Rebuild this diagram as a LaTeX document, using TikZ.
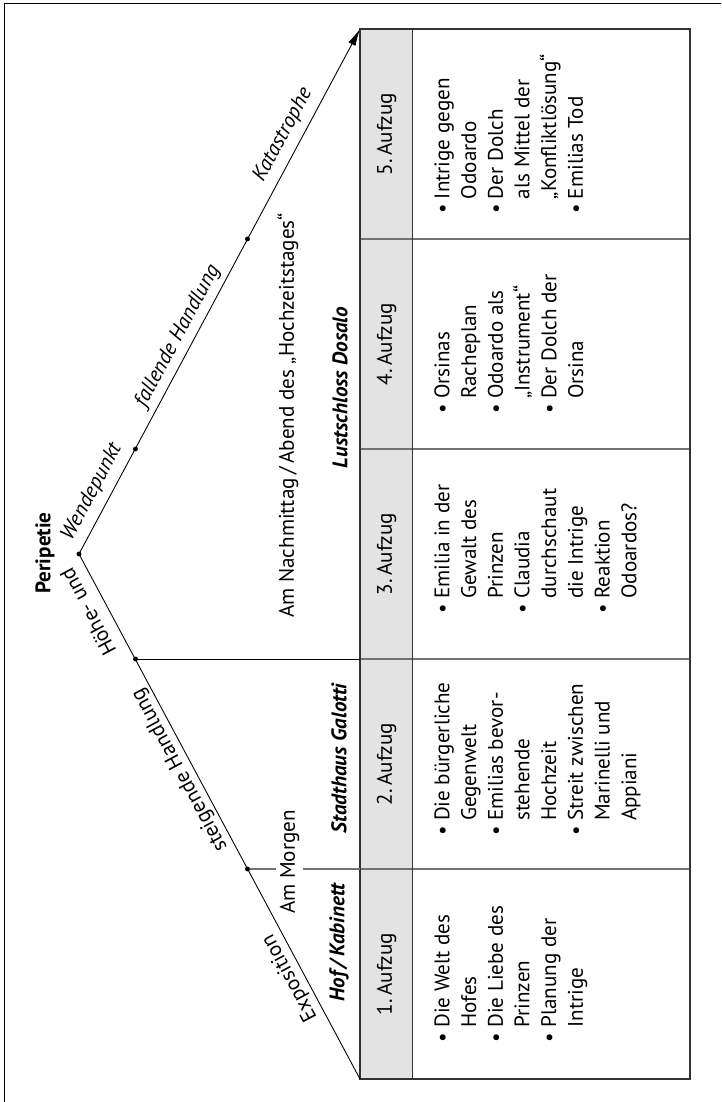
\documentclass[tikz,border=0pt]{standalone}
\usepackage{fontspec}
\setmainfont{PT Sans}
\usetikzlibrary{arrows.meta}

\newcommand{\bul}{\makebox[0.7em][l]{\textbullet}}
\newcommand{\cnt}{\hspace*{0.7em}}

\tikzset{
	akt/.style={font=\fontsize{12}{15.2}\selectfont},
	liste/.style={akt, anchor=north, align=left, inner sep=0pt},
	ort/.style={font=\fontsize{12}{15.2}\selectfont\bfseries\itshape},
	kurve/.style={font=\fontsize{12}{15.2}\selectfont, inner sep=1pt},
	punkt/.style={fill=black},
	trenner/.style={gray!90!black, line width=0.7pt}
}

\begin{document}
\begin{tikzpicture}[rotate=90, transform shape, line width=0.5pt]

	%% page and frame
	\useasboundingbox (0,0) rectangle (22.04,14.42);
	\clip (0,0) rectangle (22.04,14.42);
	\draw[line width=0.8pt] (-1,-1) rectangle (21.97,14.33);

	%% table
	\fill[gray!22] (0.46,6.17) rectangle (21.46,7.22);
	\foreach \i in {1,...,4}
		\draw[trenner] ({0.46+4.2*\i},0.62) -- ({0.46+4.2*\i},7.22);
	\draw[black!80] (0.46,6.17) -- (21.46,6.17);
	\draw[black!80, line width=0.6pt] (0.46,0.62) rectangle (21.46,7.22);

	%% the curve
	\coordinate (p0) at (0.46,7.22);
	\coordinate (d1) at (4.66,9.47);
	\coordinate (d2) at (8.86,11.71);
	\coordinate (peak) at (10.96,12.84);
	\coordinate (d3) at (13.06,11.71);
	\coordinate (d4) at (17.26,9.47);
	\coordinate (tip) at (21.46,7.22);
	\coordinate (t1) at (4.66,7.22);
	\coordinate (t2) at (8.86,7.22);

	\draw[trenner] (d1) -- (t1);
	\draw (d2) -- (t2);
	\draw[-{Latex[length=3.4mm,width=1.6mm]}] (p0) -- (peak) -- (tip);

	\foreach \p in {d1,d2,peak,d3,d4}
		\fill[punkt] (\p) circle [radius=1.4pt];

	%% labels on the curve
	\node[kurve, rotate=28.15] (expo) at (2.48,8.62) {Exposition};
	\node[kurve, rotate=28.15] (steig) at (6.64,10.82) {steigende Handlung};
	\node[kurve, rotate=28.15] (hoehe) at (9.80,12.66) {Höhe- und};
	\node[kurve, font=\fontsize{12}{15.2}\selectfont\bfseries] (peri) at (10.98,13.52) {Peripetie};
	\node[kurve, rotate=-28.15, font=\fontsize{12}{15.2}\selectfont\itshape] (wende) at (12.20,12.58) {Wendepunkt};
	\node[kurve, rotate=-28.15, font=\fontsize{12}{15.2}\selectfont\itshape] (fall) at (15.32,10.86) {fallende Handlung};
	\node[kurve, rotate=-28.15, font=\fontsize{12}{15.2}\selectfont\itshape] (kata) at (19.34,8.76) {Katastrophe};

	%% time and place
	\node[akt, fill=white, inner sep=2pt] (morgen) at (4.80,8.63) {Am Morgen};
	\node[akt] (abend) at (13.73,8.66) {Am Nachmittag\,/\,Abend des „Hochzeitstages“};
	\node[ort] (hof) at (3.19,7.64) {Hof\,/\,Kabinett};
	\node[ort] (stadt) at (6.87,7.64) {Stadthaus Galotti};
	\node[ort] (lust) at (14.29,7.62) {Lustschloss Dosalo};

	%% acts
	\foreach \i in {1,...,5}
		\node[akt] (akt\i) at ({0.46+4.2*(\i-0.5)},6.69) {\i.\,Aufzug};

	\node[liste] (liste1) at (2.56,5.74) {\bul Die Welt des\\\cnt Hofes\\\bul Die Liebe des\\\cnt Prinzen\\\bul Planung der\\\cnt Intrige};
	\node[liste] (liste2) at (6.86,5.74) {\bul Die bürgerliche\\\cnt Gegenwelt\\\bul Emilias bevor-\\\cnt stehende\\\cnt Hochzeit\\\bul Streit zwischen\\\cnt Marinelli und\\\cnt Appiani};
	\node[liste] (liste3) at (11.06,5.74) {\bul Emilia in der\\\cnt Gewalt des\\\cnt Prinzen\\\bul Claudia\\\cnt durchschaut\\\cnt die Intrige\\\bul Reaktion\\\cnt Odoardos?};
	\node[liste] (liste4) at (15.16,5.74) {\bul Orsinas\\\cnt Racheplan\\\bul Odoardo als\\\cnt „Instrument“\\\bul Der Dolch der\\\cnt Orsina};
	\node[liste] (liste5) at (19.36,5.74) {\bul Intrige gegen\\\cnt Odoardo\\\bul Der Dolch\\\cnt als Mittel der\\\cnt „Konfliktlösung“\\\bul Emilias Tod};

\end{tikzpicture}
\end{document}
